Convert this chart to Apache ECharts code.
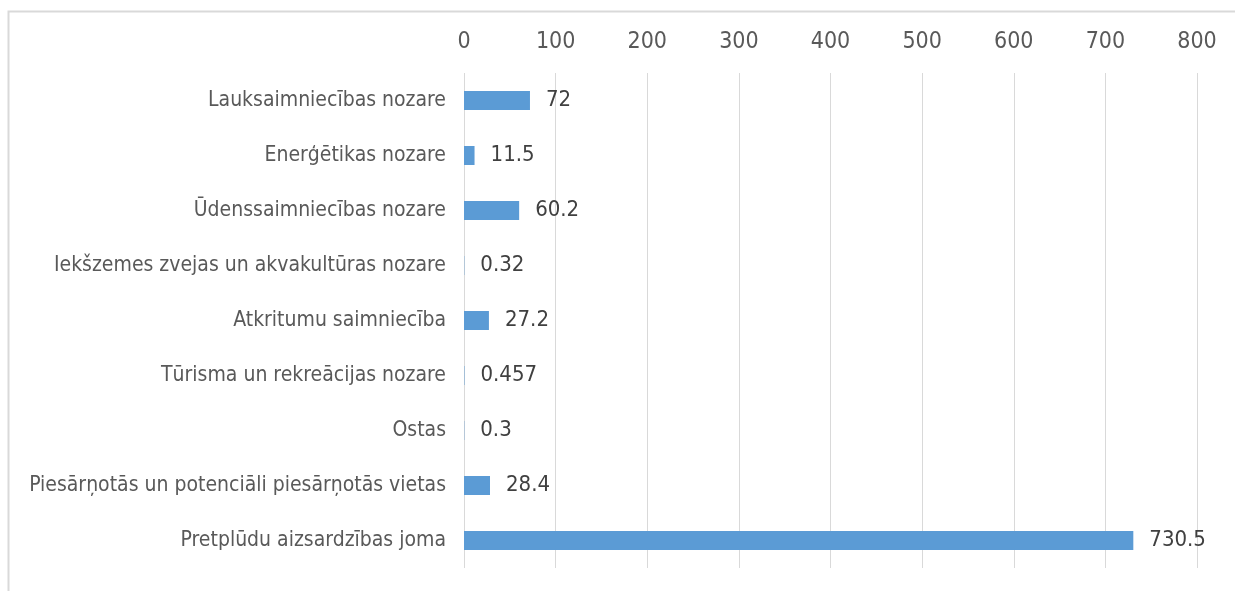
<!DOCTYPE html>
<html>
<head>
<meta charset="utf-8">
<script src="https://cdn.jsdelivr.net/npm/echarts@6/dist/echarts.min.js"></script>
<style>
html,body{margin:0;padding:0;background:#fff;}
#c{width:1235px;height:591px;}
</style>
</head>
<body>
<div id="c"></div>
<script>
const categories = [
  "Lauksaimniecības nozare",
  "Enerģētikas nozare",
  "Ūdenssaimniecības nozare",
  "Iekšzemes zvejas un akvakultūras nozare",
  "Atkritumu saimniecība",
  "Tūrisma un rekreācijas nozare",
  "Ostas",
  "Piesārņotās un potenciāli piesārņotās vietas",
  "Pretplūdu aizsardzības joma"
];
const values = [72, 11.5, 60.2, 0.32, 27.2, 0.457, 0.3, 28.4, 730.5];
const axisMin = 0, axisMax = 800, axisStep = 100;

const FONT = "DejaVu Sans Condensed";
const chart = echarts.init(document.getElementById('c'), null, {renderer: 'canvas'});
chart.setOption({
  animation: false,
  backgroundColor: '#ffffff',
  graphic: [{
    type: 'rect',
    shape: {x: 8.5, y: 11.5, width: 1260, height: 620},
    style: {fill: 'none', stroke: '#d9d9d9', lineWidth: 2},
    silent: true, z: -1
  }],
  grid: {left: 464, right: 38, top: 73, bottom: 23, containLabel: false},
  xAxis: {
    type: 'value', position: 'top',
    min: axisMin, max: axisMax, interval: axisStep,
    axisLine: {show: false}, axisTick: {show: false},
    splitLine: {show: true, lineStyle: {color: '#d9d9d9', width: 1}},
    axisLabel: {color: '#595959', fontFamily: FONT, fontSize: 23, margin: 19}
  },
  yAxis: {
    type: 'category', data: categories, inverse: true,
    axisLine: {show: false}, axisTick: {show: false},
    axisLabel: {color: '#595959', fontFamily: FONT, fontSize: 21, margin: 18}
  },
  series: [{
    type: 'bar', data: values,
    barWidth: 19,
    itemStyle: {color: '#5b9bd5'},
    label: {show: true, position: 'right', distance: 16, color: '#404040', fontFamily: FONT, fontSize: 22}
  }]
});
</script>
</body>
</html>
